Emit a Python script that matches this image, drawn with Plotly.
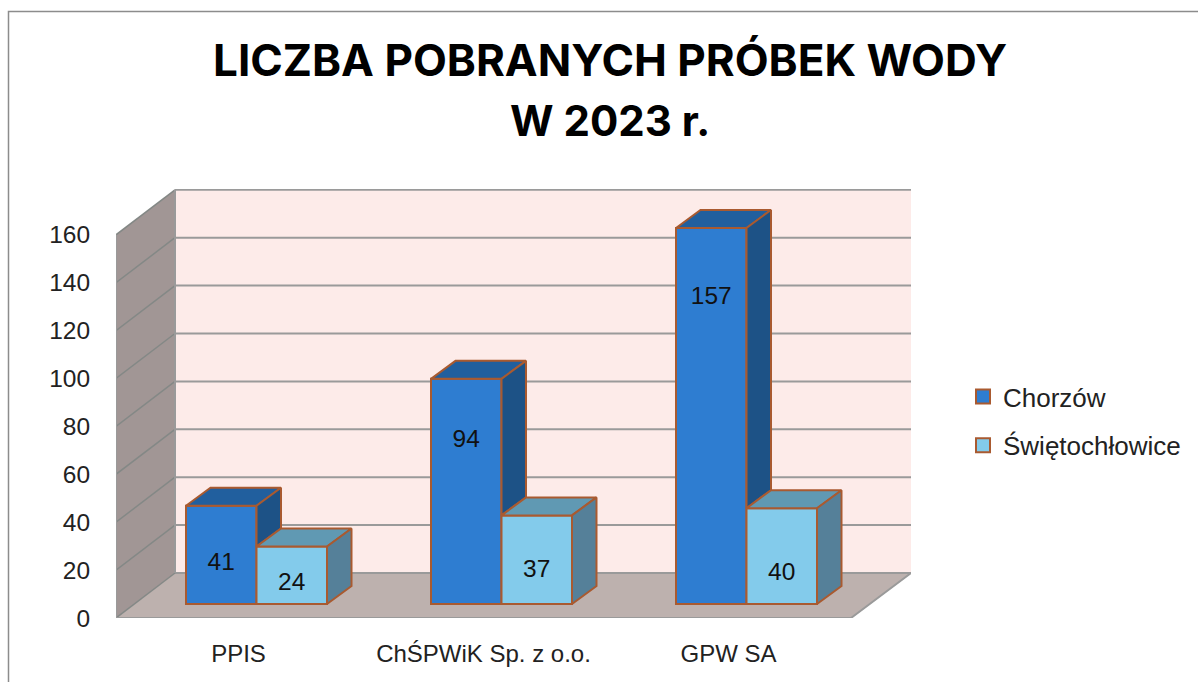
import plotly.graph_objects as go

categories = ["PPIS", "ChŚPWiK Sp. z o.o.", "GPW SA"]
chorzow = [41, 94, 157]
swietochlowice = [24, 37, 40]
y_ticks = [0, 20, 40, 60, 80, 100, 120, 140, 160]
title_lines = ["LICZBA POBRANYCH PRÓBEK WODY", "W 2023 r."]
# heights at which the value labels sit in the bars
label_h_chorzow = [22.8, 73.8, 133.8]
label_h_swiet = [14.3, 19.8, 18.3]

W, H = 1198, 682
L, R, T, B = 116, 911, 189, 618
CAT_PX = 245.0
UNIT_PX = 2.395
px_x = lambda p: p / CAT_PX
px_y = lambda p: p / UNIT_PX

X0 = -0.5
X1 = X0 + px_x(R - L)
Y1 = px_y(B - T)
WALL_DX, WALL_DY = px_x(59), px_y(45)
BAR_W = px_x(70.5)
OFF_X, OFF_Y = px_x(18), px_y(14)
D_X, D_Y = px_x(24.5), px_y(18)

EDGE = "#A95A30"
C1 = dict(front="#2E7DD1", top="#215F9E", side="#1D5286")
C2 = dict(front="#83CBEB", top="#6099B3", side="#558099")
GRID = "#9A9A9A"
GRID_WALL = "#848886"

fig = go.Figure()

def poly(xs, ys):
    return "M " + " L ".join(f"{a},{b}" for a, b in zip(xs, ys)) + " Z"

def line(xs, ys):
    return "M " + " L ".join(f"{a},{b}" for a, b in zip(xs, ys))

front_r = X0 + 3
top_v = y_ticks[-1]
shapes = [
    dict(path=poly([X0 + WALL_DX, X1, X1, X0 + WALL_DX], [WALL_DY, WALL_DY, top_v + WALL_DY, top_v + WALL_DY]),
         fillcolor="#FDEBE9", line_width=0),
    dict(path=poly([X0, X0 + WALL_DX, X0 + WALL_DX, X0], [0, WALL_DY, top_v + WALL_DY, top_v]),
         fillcolor="#A19695", line_width=0),
    dict(path=poly([X0, front_r, X1, X0 + WALL_DX], [0, 0, WALL_DY, WALL_DY]),
         fillcolor="#BDB1AE", line_width=0),
]
for v in y_ticks:
    shapes.append(dict(path=line([X0 + WALL_DX, X1], [v + WALL_DY, v + WALL_DY]),
                       line=dict(color=GRID, width=2)))
    shapes.append(dict(path=line([X0, X0 + WALL_DX], [v, v + WALL_DY]),
                       line=dict(color=GRID_WALL, width=1.5)))
shapes.append(dict(path=line([X0, X0, front_r, X1], [top_v, 0, 0, WALL_DY]), line=dict(color=GRID, width=2)))
shapes.append(dict(path=line([X0 + WALL_DX, X0 + WALL_DX], [WALL_DY, top_v + WALL_DY]), line=dict(color=GRID, width=2)))
for s in shapes:
    s.update(xref="x", yref="y", type="path", layer="below")

# window frame
shapes.append(dict(type="path", xref="paper", yref="paper",
                   path=line([(8.5 - L) / (R - L), (8.5 - L) / (R - L), (W - L) / (R - L)],
                             [-(H - B) / (B - T), (B - 11.5) / (B - T), (B - 11.5) / (B - T)]),
                   line=dict(color="#8C8C8C", width=1.5), layer="below"))

idx = list(range(len(categories)))
x1_left = [i + OFF_X - BAR_W for i in idx]
x2_left = [i + OFF_X for i in idx]

fig.add_bar(name="Chorzów", x=[a + BAR_W / 2 for a in x1_left], y=chorzow, base=[OFF_Y] * 3, width=BAR_W,
            showlegend=False, marker=dict(color=C1["front"], line=dict(color=EDGE, width=2)))
fig.add_bar(name="Świętochłowice", x=[a + BAR_W / 2 for a in x2_left], y=swietochlowice, base=[OFF_Y] * 3, width=BAR_W,
            showlegend=False, marker=dict(color=C2["front"], line=dict(color=EDGE, width=2)))

def face(xs, ys, color):
    fig.add_scatter(x=xs, y=ys, mode="lines", fill="toself", fillcolor=color,
                    line=dict(color=EDGE, width=2), showlegend=False, hoverinfo="skip")

for i in idx:
    a, v1 = x1_left[i], chorzow[i]
    b, v2 = x2_left[i], swietochlowice[i]
    t1, t2 = OFF_Y + v1, OFF_Y + v2
    face([a, a + BAR_W, a + BAR_W + D_X, a + D_X, a], [t1, t1, t1 + D_Y, t1 + D_Y, t1], C1["top"])
    face([b, b + D_X, b + D_X, b, b], [t1, t1 + D_Y, t2 + D_Y, t2, t1], C1["side"])
    face([b, b + BAR_W, b + BAR_W + D_X, b + D_X, b], [t2, t2, t2 + D_Y, t2 + D_Y, t2], C2["top"])
    r = b + BAR_W
    face([r, r + D_X, r + D_X, r, r], [t2, t2 + D_Y, OFF_Y + D_Y, OFF_Y, t2], C2["side"])

fig.add_scatter(x=[a + BAR_W / 2 for a in x1_left] + [a + BAR_W / 2 for a in x2_left],
                y=label_h_chorzow + label_h_swiet,
                text=[str(v) for v in chorzow + swietochlowice], mode="text",
                textfont=dict(family="Liberation Sans", size=24.5, color="#111111"),
                showlegend=False, hoverinfo="skip")

# legend entries with the larger square swatches
for name, col, grp in [("Chorzów", C1["front"], "a"), ("Świętochłowice", C2["front"], "b")]:
    fig.add_scatter(x=[None], y=[None], mode="markers", name=name, legendgroup=grp,
                    marker=dict(symbol="square", size=14, color=col, line=dict(color=EDGE, width=2)))

annotations = [
    dict(text=t, xref="paper", yref="paper", x=(610 - L) / (R - L), y=(B - yy) / (B - T),
         xanchor="center", yanchor="middle", showarrow=False,
         font=dict(family="Inter", size=s, color="#000000", weight=700))
    for t, yy, s in zip(title_lines, [60, 120], [44, 42])
]

fig.update_layout(
    width=W, height=H, autosize=False,
    margin=dict(l=L, r=W - R, t=T, b=H - B, pad=0),
    paper_bgcolor="white", plot_bgcolor="rgba(0,0,0,0)",
    barmode="overlay", shapes=shapes, annotations=annotations,
    xaxis=dict(range=[X0, X1], tickvals=idx, ticktext=categories, showgrid=False, zeroline=False,
               showline=False, ticks="outside", ticklen=14, tickcolor="rgba(0,0,0,0)",
               tickfont=dict(family="Liberation Sans", size=24, color="#222222")),
    yaxis=dict(range=[0, Y1], tickvals=y_ticks, showgrid=False, zeroline=False, showline=False,
               ticks="outside", ticklen=20, tickcolor="rgba(0,0,0,0)",
               tickfont=dict(family="Liberation Sans", size=24.5, color="#222222")),
    legend=dict(x=(963 - L) / (R - L), y=(B - 421) / (B - T), xanchor="left", yanchor="middle",
                tracegroupgap=12, itemwidth=30, itemsizing="trace", traceorder="grouped",
                font=dict(family="Liberation Sans", size=26, color="#222222"), bgcolor="rgba(0,0,0,0)"),
)

fig.write_html("out.html", config={"displayModeBar": False},
               post_script="document.body.style.margin='0';document.body.style.overflow='hidden';")
